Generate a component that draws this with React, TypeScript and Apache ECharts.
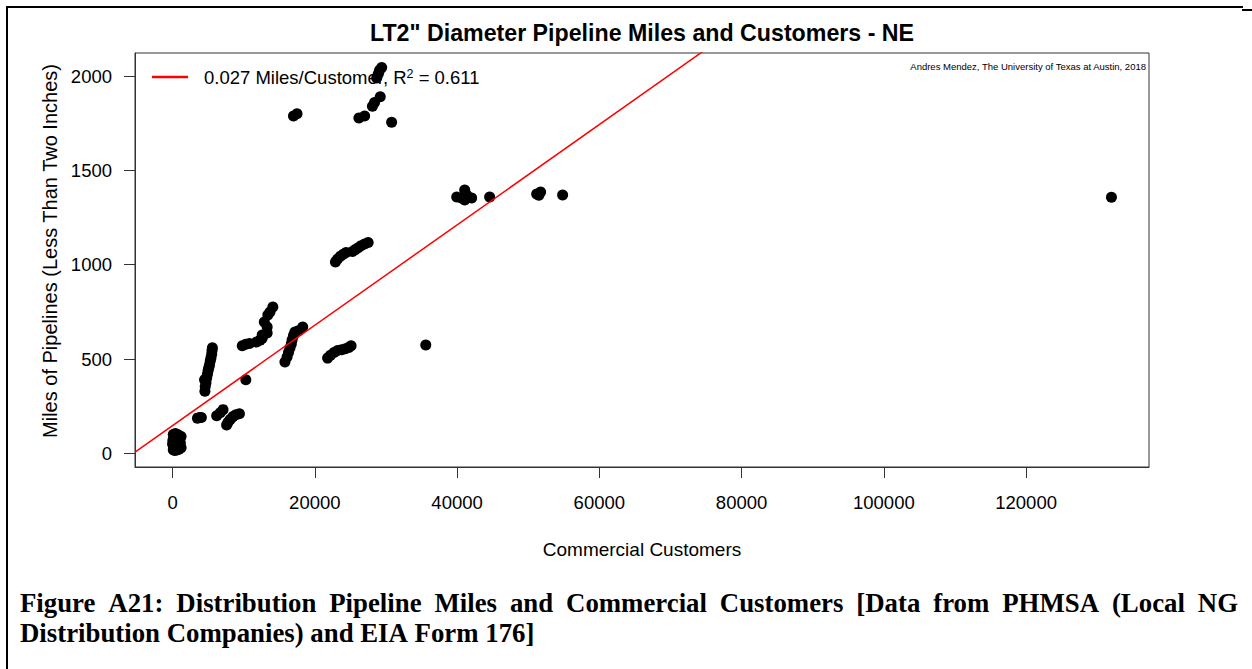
import React, { useEffect, useRef } from "react";
import * as echarts from "echarts";

const TITLE = 'LT2" Diameter Pipeline Miles and Customers - NE';
const X_NAME = "Commercial Customers";
const Y_NAME = "Miles of Pipelines (Less Than Two Inches)";
const CREDIT = "Andres Mendez, The University of Texas at Austin, 2018";
const CAPTION_1 =
  "Figure A21: Distribution Pipeline Miles and Commercial Customers [Data from PHMSA (Local NG";
const CAPTION_2 = "Distribution Companies) and EIA Form 176]";

const X_TICKS = [0, 20000, 40000, 60000, 80000, 100000, 120000];
const Y_TICKS = [0, 500, 1000, 1500, 2000];
const X_RANGE = [-5280, 137280];
const Y_RANGE = [-72, 2122];

const FIT_SLOPE = 0.0266;
const FIT_INTERCEPT = 147;
const FIT_SLOPE_LABEL = "0.027";
const FIT_R2_LABEL = "0.611";

// Commercial customers (x) and LT2" pipeline miles (y), grouped by cluster
const customers = [
  // near origin
  100, 300, 600, 900, 1200, 200, 500, 800, 1100, 300, 700, 1000, 200, 600, 900, 100, 400, 700, 1200, 0, 50, 400, 1000, 150, 850,
  3500, 3800, 4050,
  6200, 6700, 7100,
  7600, 7800, 8100, 8500, 8900, 9400,
  4550, 4600, 4700, 4500, 4800, 4900, 5000, 5100, 5200, 5300, 5400, 5500, 5550, 5600,
  10300,
  9800, 10300, 10800,
  11800, 12300, 12600, 12600, 13300, 13300, 12900, 13400, 13700, 14100,
  15800, 16100, 16300, 16500, 16700, 16800, 17000, 17200, 17700, 18300,
  21800, 22200, 22700, 23200, 23800, 24300, 24800, 25100,
  22900, 23200, 23600, 24000, 24400, 25300, 25700, 26100, 26500, 27000, 27500,
  35600,
  17000, 17500, 26200, 27000, 28100, 28400, 29200, 30800, 28700, 28900, 29100, 29400,
  39950, 40700, 41070, 41350, 41070, 42050, 44580,
  51190, 51500, 51750, 54840, 132000,
];
const pipelineMiles = [
  20, 15, 18, 22, 30, 40, 35, 45, 55, 60, 65, 75, 80, 85, 95, 100, 105, 100, 90, 50, 70, 50, 40, 30, 70,
  187, 190, 190,
  200, 215, 232,
  150, 165, 180, 195, 205, 210,
  330, 355, 375, 390, 400, 420, 440, 455, 470, 490, 505, 525, 545, 560,
  390,
  570, 578, 582,
  590, 600, 610, 628, 638, 670, 697, 734, 750, 776,
  485, 511, 535, 559, 580, 601, 625, 644, 650, 670,
  505, 520, 535, 545, 550, 555, 562, 570,
  1015, 1030, 1045, 1055, 1065, 1070, 1080, 1090, 1100, 1110, 1118,
  575,
  1788, 1800, 1777, 1788, 1840, 1860, 1890, 1755, 1990, 2010, 2030, 2045,
  1359, 1352, 1396, 1370, 1343, 1354, 1359,
  1375, 1368, 1385, 1369, 1358,
];

const W = 1252;
const H = 669;
const GRID = { left: 135, top: 53, right: 1149, bottom: 467 };
const SANS = '"Liberation Sans", Arial, sans-serif';
const SERIF = '"Liberation Serif", "Times New Roman", serif';
const BASE = 18.5;
const CAPTION_SIZE = 26.8;

function justifyWords(text: string, font: string, x0: number, x1: number, justify: boolean) {
  const ctx = document.createElement("canvas").getContext("2d")!;
  ctx.font = font;
  const words = text.split(" ");
  const widths = words.map((w) => ctx.measureText(w).width);
  const total = widths.reduce((a, b) => a + b, 0);
  const gap = justify ? (x1 - x0 - total) / (words.length - 1) : ctx.measureText(" ").width;
  let x = x0;
  return words.map((w, i) => {
    const item = { word: w, x };
    x += widths[i] + gap;
    return item;
  });
}

export default function App() {
  const ref = useRef<HTMLDivElement>(null);

  useEffect(() => {
    if (!ref.current) return;
    const chart = echarts.init(ref.current, undefined, { renderer: "svg" });

    const points = customers.map((c, i) => [c, pipelineMiles[i]]);
    const fitLine = X_RANGE.map((x) => [x, FIT_INTERCEPT + FIT_SLOPE * x]);

    const captionFont = `bold ${CAPTION_SIZE}px ${SERIF}`;
    const line1 = justifyWords(CAPTION_1, captionFont, 20, 1238, true);
    const line2 = justifyWords(CAPTION_2, captionFont, 20, 1238, false);
    const captionEls: any[] = [];
    [
      { items: line1, y: 603 },
      { items: line2, y: 633 },
    ].forEach(({ items, y }) =>
      items.forEach((it) =>
        captionEls.push({
          type: "text",
          x: it.x,
          y,
          style: {
            text: it.word,
            fontSize: CAPTION_SIZE,
            fontWeight: "bold",
            fontFamily: SERIF,
            fill: "#000",
            align: "left",
            verticalAlign: "middle",
          },
        })
      )
    );

    const axisText = { color: "#000", fontSize: BASE, fontFamily: SANS };

    chart.setOption({
      animation: false,
      backgroundColor: "#fff",
      grid: {
        left: GRID.left,
        top: GRID.top,
        width: GRID.right - GRID.left,
        height: GRID.bottom - GRID.top,
        show: true,
        borderColor: "#333",
        borderWidth: 1,
        containLabel: false,
      },
      legend: {
        data: ["fit"],
        left: 152,
        top: 67,
        padding: 0,
        icon: "rect",
        itemWidth: 36,
        itemHeight: 2.5,
        selectedMode: false,
        formatter: () => `{a|${FIT_SLOPE_LABEL} Miles/Customer, R}{s|2}{a| = ${FIT_R2_LABEL}}`,
        textStyle: {
          padding: [0, 0, 0, 11],
          rich: {
            a: { fontSize: BASE, fontFamily: SANS, color: "#000", lineHeight: 20 },
            s: { fontSize: 12.5, fontFamily: SANS, color: "#000", lineHeight: 12, verticalAlign: "top" },
          },
        },
      },
      xAxis: {
        type: "value",
        min: X_RANGE[0],
        max: X_RANGE[1],
        name: X_NAME,
        nameLocation: "middle",
        nameGap: 73,
        nameTextStyle: { ...axisText, fontSize: 19 },
        splitLine: { show: false },
        axisLine: { show: true, onZero: false, lineStyle: { color: "#333", width: 1 } },
        axisTick: { show: true, length: 11, inside: false, customValues: X_TICKS, lineStyle: { color: "#333" } },
        axisLabel: { ...axisText, margin: 26, customValues: X_TICKS, formatter: (v: number) => String(v) },
      },
      yAxis: {
        type: "value",
        min: Y_RANGE[0],
        max: Y_RANGE[1],
        name: Y_NAME,
        nameLocation: "middle",
        nameGap: 55,
        nameTextStyle: { ...axisText, fontSize: 20, padding: [0, 0, 0, 18] },
        splitLine: { show: false },
        axisLine: { show: true, onZero: false, lineStyle: { color: "#333", width: 1 } },
        axisTick: { show: true, length: 11, inside: false, customValues: Y_TICKS, lineStyle: { color: "#333" } },
        axisLabel: { ...axisText, margin: 23, customValues: Y_TICKS, formatter: (v: number) => String(v) },
      },
      series: [
        {
          name: "points",
          type: "scatter",
          data: points,
          symbol: "circle",
          symbolSize: 11,
          itemStyle: { color: "#000", opacity: 1 },
          z: 2,
          silent: true,
        },
        {
          name: "fit",
          type: "line",
          data: fitLine,
          showSymbol: false,
          symbol: "none",
          clip: true,
          color: "#ff0000",
          lineStyle: { color: "#ff0000", width: 1.5 },
          z: 3,
          silent: true,
        },
      ],
      graphic: [
        { type: "rect", shape: { x: 6, y: 6, width: 1237, height: 2 }, style: { fill: "#000" } },
        { type: "rect", shape: { x: 1242, y: 9, width: 10, height: 2 }, style: { fill: "#000" } },
        { type: "rect", shape: { x: 6, y: 6, width: 2, height: H - 6 }, style: { fill: "#000" } },
        {
          type: "text",
          x: (GRID.left + GRID.right) / 2,
          y: 33,
          style: {
            text: TITLE,
            fontSize: 23.2,
            fontWeight: "bold",
            fontFamily: SANS,
            fill: "#000",
            align: "center",
            verticalAlign: "middle",
          },
        },
        {
          type: "text",
          x: 1146,
          y: 66,
          style: {
            text: CREDIT,
            fontSize: 9.5,
            fontFamily: SANS,
            fill: "#000",
            align: "right",
            verticalAlign: "middle",
          },
        },
        ...captionEls,
      ],
    });

    return () => chart.dispose();
  }, []);

  return (
    <div
      ref={ref}
      style={{ position: "fixed", left: 0, top: 0, width: W, height: H, background: "#fff" }}
    />
  );
}
